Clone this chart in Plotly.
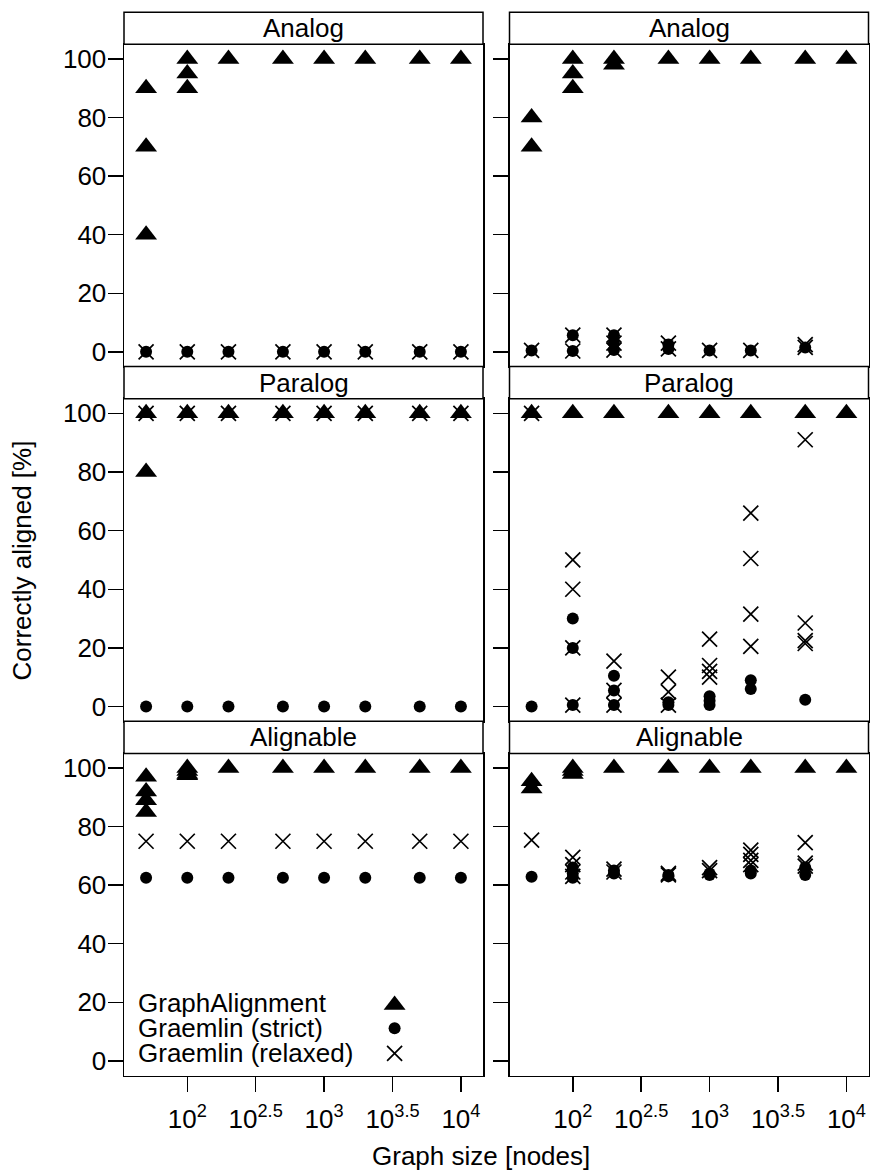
import plotly.graph_objects as go

# ---------------- data ----------------
SIZES = [50, 100, 200, 500, 1000, 2000, 5000, 10000]
PANEL_TITLES = ["Analog", "Paralog", "Alignable"]
SERIES_NAMES = ["GraphAlignment", "Graemlin (strict)", "Graemlin (relaxed)"]
X_TICK_VALUES = [100, 316.227766, 1000, 3162.27766, 10000]
X_TICK_LABELS = ["10<sup>2</sup>", "10<sup>2.5</sup>", "10<sup>3</sup>",
                 "10<sup>3.5</sup>", "10<sup>4</sup>"]
Y_TICK_VALUES = [0, 20, 40, 60, 80, 100]

# left column
L_ANALOG_GA = [[90, 70, 40], [100, 95, 90], [100], [100], [100], [100], [100], [100]]
L_ANALOG_STRICT = [[0], [0], [0], [0], [0], [0], [0], [0]]
L_ANALOG_RELAXED = [[0], [0], [0], [0], [0], [0], [0], [0]]

L_PARALOG_GA = [[100, 80], [100], [100], [100], [100], [100], [100], [100]]
L_PARALOG_STRICT = [[0], [0], [0], [0], [0], [0], [0], [0]]
L_PARALOG_RELAXED = [[100], [100], [100], [100], [100], [100], [100], [100]]

L_ALIGN_GA = [[97, 92, 89, 85], [100, 99, 98, 97.5], [100], [100], [100], [100], [100], [100]]
L_ALIGN_STRICT = [[62.5], [62.5], [62.5], [62.5], [62.5], [62.5], [62.5], [62.5]]
L_ALIGN_RELAXED = [[75], [75], [75], [75], [75], [75], [75], [75]]

# right column
R_ANALOG_GA = [[80, 70], [100, 95, 90], [100, 98], [100], [100], [100], [100], [100]]
R_ANALOG_STRICT = [[0.5], [0.3, 5.7], [0.6, 3, 5.7], [1, 2.5], [0.5], [0.5], [1.5], []]
R_ANALOG_RELAXED = [[0.5], [0.3, 5.7], [0.6, 3, 5.7], [1, 3], [0.5], [0.5], [1.5, 2.5], []]

R_PARALOG_GA = [[100], [100], [100], [100], [100], [100], [100], [100]]
R_PARALOG_STRICT = [[0], [30, 20, 0.5], [10.5, 5.5, 0.5], [1.5, 0.5], [3.5, 2, 0.5], [9, 6], [2.3], []]
R_PARALOG_RELAXED = [[100], [50, 40, 20, 0.5], [15.5, 5.5, 0.5], [10, 5, 0.5],
                     [23, 14, 12, 10], [66, 50.5, 31.5, 20.5], [91, 28.5, 22.5, 21.5], []]

R_ALIGN_GA = [[95.5, 93], [100, 99, 98], [100], [100], [100], [100], [100], [100]]
R_ALIGN_STRICT = [[62.9], [66, 64, 62.5], [65, 64], [63.5, 63], [64, 63.5], [65, 64], [66, 63.5], []]
R_ALIGN_RELAXED = [[75.4], [69.5, 67, 64.5, 63], [65.5, 64.5], [64, 63.5], [66, 65],
                   [72, 70.5, 68.5, 67], [74.5, 67.5, 66.5], []]

PANELS = [
    (L_ANALOG_GA, L_ANALOG_STRICT, L_ANALOG_RELAXED),
    (R_ANALOG_GA, R_ANALOG_STRICT, R_ANALOG_RELAXED),
    (L_PARALOG_GA, L_PARALOG_STRICT, L_PARALOG_RELAXED),
    (R_PARALOG_GA, R_PARALOG_STRICT, R_PARALOG_RELAXED),
    (L_ALIGN_GA, L_ALIGN_STRICT, L_ALIGN_RELAXED),
    (R_ALIGN_GA, R_ALIGN_STRICT, R_ALIGN_RELAXED),
]

# ---------------- layout geometry (pixels) ----------------
W, H = 870, 1172
FONT = "Liberation Sans, Arial, Helvetica, sans-serif"
FS = 26
COLS = [(124, 483), (509.5, 868.5)]
ROWS = [(12.3, 44.3, 366.5), (366.5, 398.7, 721.2), (721.2, 753.4, 1075.5)]  # strip top, panel top, panel bottom
XRANGE = [1.5375, 4.1615]
YRANGE = [-5.0, 105.0]


def px(x):
    return x / W


def py(y):
    return 1 - y / H


STYLES = [
    dict(symbol="triangle-up", size=19, color="black", line=dict(width=0)),
    dict(symbol="circle", size=12, color="black", line=dict(width=0)),
    dict(symbol="x-thin-open", size=15, color="black", line=dict(width=1.7, color="black")),
]

fig = go.Figure()
shapes = []
annotations = []

for i, series in enumerate(PANELS):
    r, c = divmod(i, 2)
    ax = "" if i == 0 else str(i + 1)
    for s, vals in enumerate(series):
        xs = [sz for sz, v in zip(SIZES, vals) for _ in v]
        ys = [y for v in vals for y in v]
        fig.add_trace(go.Scatter(
            x=xs, y=ys, mode="markers", name=SERIES_NAMES[s], showlegend=False,
            marker=STYLES[s], xaxis="x" + ax, yaxis="y" + ax, cliponaxis=False,
        ))
    x0, x1 = COLS[c]
    st, pt, pb = ROWS[r]
    bottom = (r == 2)
    fig.layout["xaxis" + ax] = dict(
        domain=[px(x0), px(x1)], anchor="y" + ax, type="log", range=XRANGE,
        showgrid=False, zeroline=False, showline=True, mirror=True,
        linecolor="black", linewidth=1.5,
        ticks="outside" if bottom else "", ticklen=15, tickwidth=1.5, tickcolor="black",
        tickvals=X_TICK_VALUES, ticktext=X_TICK_LABELS, showticklabels=bottom,
        ticklabelstandoff=5,
        tickfont=dict(family=FONT, size=FS, color="black"),
    )
    fig.layout["yaxis" + ax] = dict(
        domain=[py(pb), py(pt)], anchor="x" + ax, range=YRANGE,
        showgrid=False, zeroline=False, showline=True, mirror=True,
        linecolor="black", linewidth=1.5,
        ticks="outside", ticklen=15, tickwidth=1.5, tickcolor="black",
        tickvals=Y_TICK_VALUES, showticklabels=(c == 0),
        ticklabelstandoff=-4,
        tickfont=dict(family=FONT, size=FS, color="black"),
    )
    # strip
    shapes.append(dict(type="rect", xref="paper", yref="paper",
                       x0=px(x0), x1=px(x1), y0=py(pt), y1=py(st),
                       line=dict(color="black", width=1.5), fillcolor="white", layer="above"))
    annotations.append(dict(text=PANEL_TITLES[r], xref="paper", yref="paper",
                            x=px((x0 + x1) / 2), y=py((st + pt) / 2),
                            xanchor="center", yanchor="middle", showarrow=False,
                            font=dict(family=FONT, size=FS, color="black")))

# axis titles
annotations.append(dict(text="Graph size [nodes]", xref="paper", yref="paper",
                        x=px(481), y=py(1156), xanchor="center", yanchor="middle",
                        showarrow=False, font=dict(family=FONT, size=FS, color="black")))
annotations.append(dict(text="Correctly aligned [%]", xref="paper", yref="paper",
                        x=px(21.5), y=py(561), xanchor="center", yanchor="middle",
                        textangle=-90, showarrow=False,
                        font=dict(family=FONT, size=FS, color="black")))

# legend (text left, key symbol right) inside the lower-left panel
LEGEND_TEXT_X = 136
LEGEND_KEY_X = 394.6
LEGEND_ROW_Y = [1002.5, 1028.3, 1053.3]
for s, name in enumerate(SERIES_NAMES):
    annotations.append(dict(text=name, xref="paper", yref="paper",
                            x=px(LEGEND_TEXT_X), y=py(LEGEND_ROW_Y[s]),
                            xanchor="left", yanchor="middle", showarrow=False,
                            font=dict(family=FONT, size=FS, color="black")))
    offset = 2.4 if s == 0 else 0
    fig.add_trace(go.Scatter(x=[LEGEND_KEY_X], y=[LEGEND_ROW_Y[s] + offset], mode="markers",
                             marker=STYLES[s], showlegend=False, xaxis="x7", yaxis="y7",
                             hoverinfo="skip"))
fig.layout["xaxis7"] = dict(domain=[0, 1], range=[0, W], visible=False, anchor="y7")
fig.layout["yaxis7"] = dict(domain=[0, 1], range=[H, 0], visible=False, anchor="x7")

fig.update_layout(
    width=W, height=H, margin=dict(l=0, r=0, t=0, b=0),
    paper_bgcolor="white", plot_bgcolor="rgba(0,0,0,0)",
    shapes=shapes, annotations=annotations, showlegend=False,
    font=dict(family=FONT, size=FS, color="black"),
)
fig.write_html("out.html", config={"displayModeBar": False, "staticPlot": True},
               post_script="document.body.style.margin='0px';document.body.style.overflow='hidden';")
